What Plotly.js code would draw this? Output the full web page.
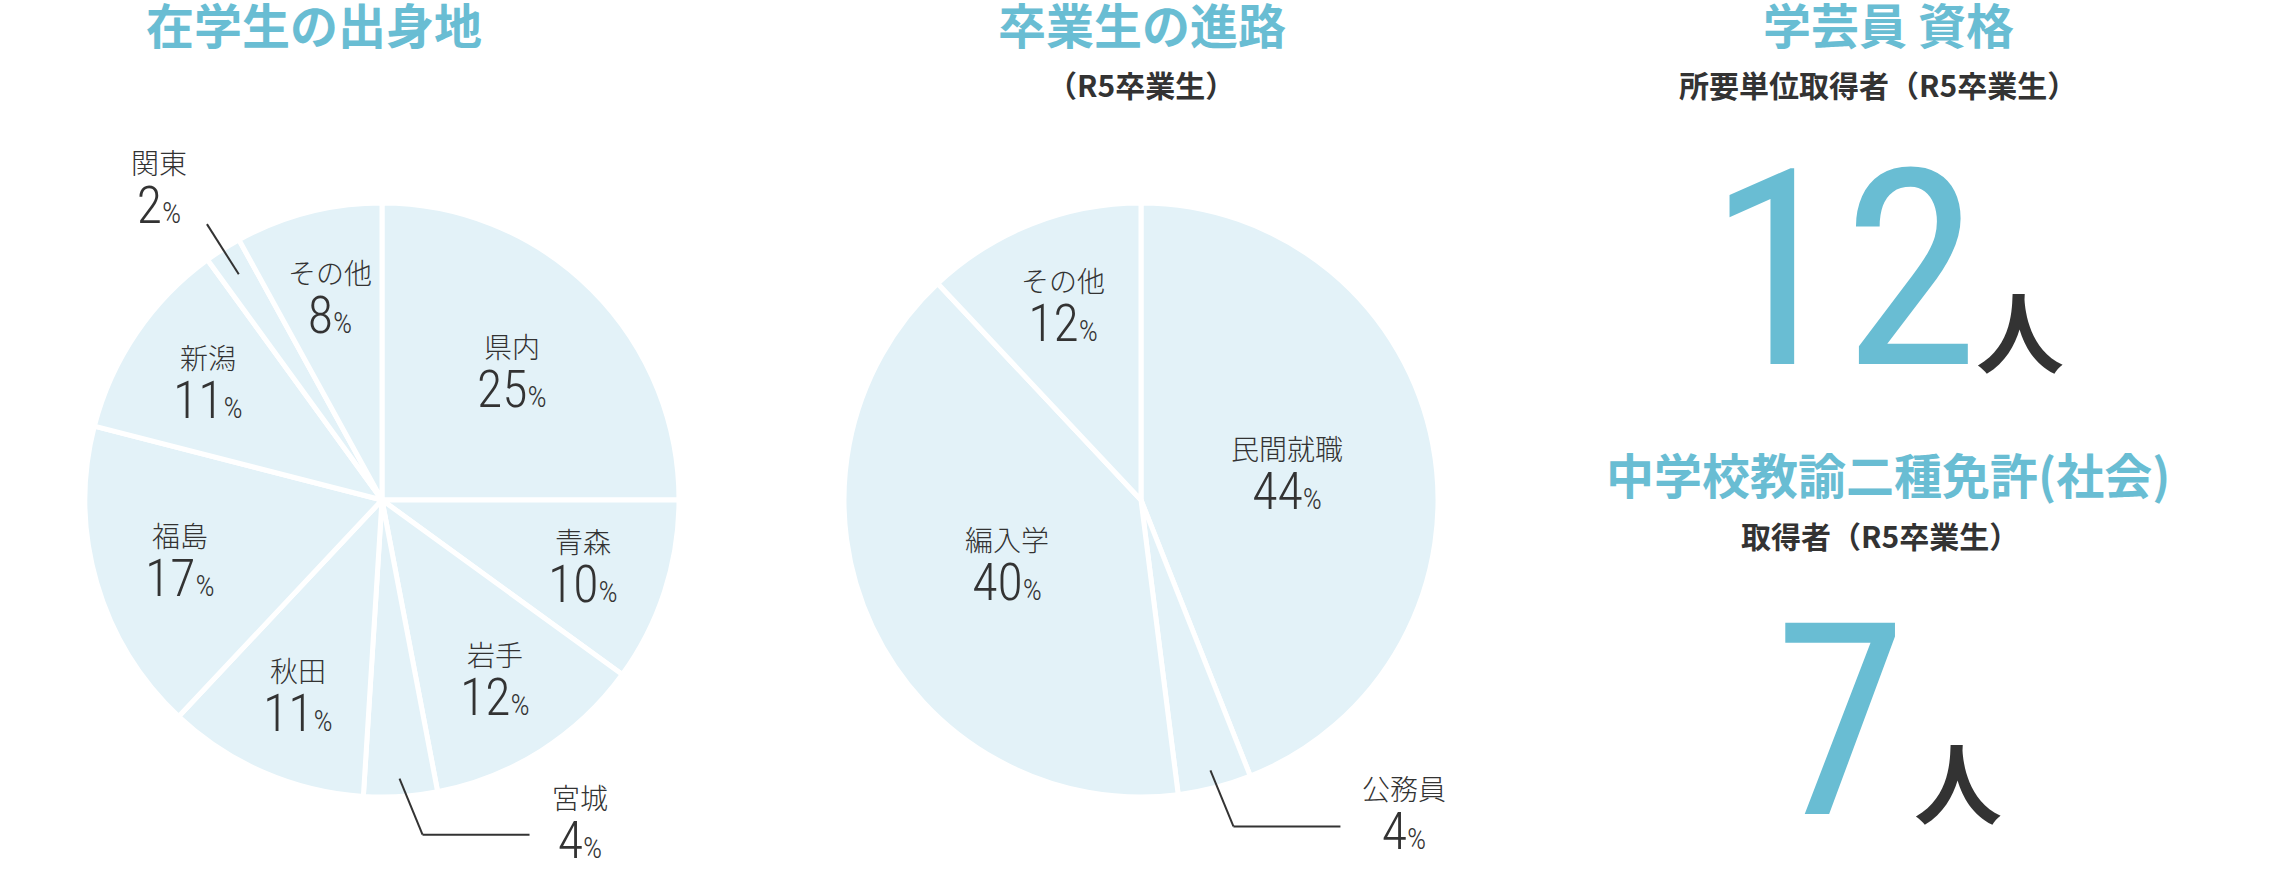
<!DOCTYPE html>
<html><head><meta charset="utf-8">
<script src="https://cdn.plot.ly/plotly-3.0.1.min.js"></script>
<style>html,body{margin:0;padding:0;background:#fff}#chart{width:2280px;height:890px}</style>
</head><body><div id="chart"></div>
<script>
// ---- data ----
const originTitle = '在学生の出身地';
const originLabels = ['県内','青森','岩手','宮城','秋田','福島','新潟','関東','その他'];
const originValues = [25,10,12,4,11,17,11,2,8];

const courseTitle = '卒業生の進路';
const courseSub = '（R5卒業生）';
const courseLabels = ['民間就職','公務員','編入学','その他'];
const courseValues = [44,4,40,12];

const curatorTitle = '学芸員 資格';
const curatorSub = '所要単位取得者（R5卒業生）';
const curatorCount = 12;
const teacherTitle = '中学校教諭二種免許(社会)';
const teacherSub = '取得者（R5卒業生）';
const teacherCount = 7;
const unitLabel = '人';

// ---- style ----
const W = 2280, H = 890;
const ACCENT = '#69bdd3';
const FILL = '#e3f2f8';
const DARK = '#333333';
const JP = 'Noto Sans CJK JP';
const NUM = 'Roboto Condensed';
const pieL = {cx: 382, cy: 500, r: 297};
const pieM = {cx: 1141, cy: 500, r: 297};

const px = x => x / W;
const py = y => 1 - y / H;

function pieTrace(labels, values, g) {
  return {
    type: 'pie', labels: labels, values: values, sort: false, direction: 'clockwise', rotation: 0,
    textinfo: 'none', hoverinfo: 'none', showlegend: false,
    marker: {colors: labels.map(() => FILL), line: {color: '#ffffff', width: 5}},
    domain: {x: [px(g.cx - g.r), px(g.cx + g.r)], y: [py(g.cy + g.r), py(g.cy - g.r)]}
  };
}

const annotations = [];
const shapes = [];

function ann(text, x, y, font) {
  annotations.push({
    text: text, x: px(x), y: py(y), xref: 'paper', yref: 'paper', showarrow: false,
    xanchor: 'center', yanchor: 'middle', font: font
  });
}
function seg(x0, y0, x1, y1) {
  shapes.push({type: 'line', xref: 'paper', yref: 'paper', x0: px(x0), y0: py(y0), x1: px(x1), y1: py(y1),
    line: {color: DARK, width: 2}});
}
// two-line label: name (light JP) over value (condensed light digits + small %)
function label(name, v, x, yMid) {
  const t = '<span style="font-family:Noto Sans CJK JP;font-size:28px;font-weight:300">' + name + '</span>' +
            '<br><span style="font-size:52px">' + v + '</span><span style="font-size:30px">%</span>';
  ann(t, x, yMid + 3, {family: NUM, size: 38, color: DARK, weight: 300});
}

function pieLabels(labels, values, g) {
  const total = values.reduce((a, b) => a + b, 0);
  let cum = 0;
  labels.forEach((name, i) => {
    const frac = values[i] / total;
    const a = (cum + frac / 2) * 2 * Math.PI;
    cum += frac;
    const sx = Math.sin(a), sy = -Math.cos(a);
    if (frac < 0.05) {
      if (sy > 0) {
        const s = [g.cx + sx * g.r * 0.94, g.cy + sy * g.r * 0.94];
        const c = [s[0] + 23, s[1] + 56];
        const e = [c[0] + 107, c[1]];
        seg(s[0], s[1], c[0], c[1]);
        seg(c[0], c[1], e[0], e[1]);
        label(name, values[i], e[0] + 22 + name.length * 14, c[1] - 14);
      } else {
        const s = [g.cx + sx * g.r * 0.90, g.cy + sy * g.r * 0.90];
        const e = [g.cx + sx * g.r * 1.10, g.cy + sy * g.r * 1.10];
        seg(s[0], s[1], e[0], e[1]);
        label(name, values[i], e[0] - 48, e[1] - 38);
      }
    } else {
      const f = frac >= 0.35 ? 0.5 : (frac >= 0.2 ? 0.62 : 0.71);
      label(name, values[i], g.cx + sx * g.r * f, g.cy + sy * g.r * f);
    }
  });
}

pieLabels(originLabels, originValues, pieL);
pieLabels(courseLabels, courseValues, pieM);

const titleFont = {family: JP, size: 48, color: ACCENT, weight: 700};
const subFont = {family: JP, size: 30, color: DARK, weight: 700};
const bigFont = s => ({family: NUM, size: s, color: ACCENT, weight: 450});
const unitFont = {family: JP, size: 88, color: DARK, weight: 700};

ann(originTitle, 314, 23, titleFont);
ann(courseTitle, 1142, 23, titleFont);
ann(courseSub, 1141, 84, subFont);

ann(curatorTitle, 1888, 23, titleFont);
ann(curatorSub, 1878, 84, subFont);
ann(String(curatorCount), 1843, 270, bigFont(274));
ann(unitLabel, 2020, 328, unitFont);

ann(teacherTitle, 1888, 473, titleFont);
ann(teacherSub, 1880, 535, subFont);
ann(String(teacherCount), 1840, 722, bigFont(269));
ann(unitLabel, 1958, 778, unitFont);

const layout = {
  width: W, height: H, margin: {l: 0, r: 0, t: 0, b: 0},
  paper_bgcolor: '#ffffff', plot_bgcolor: '#ffffff',
  showlegend: false, annotations: annotations, shapes: shapes
};

Plotly.newPlot('chart', [pieTrace(originLabels, originValues, pieL), pieTrace(courseLabels, courseValues, pieM)], layout, {staticPlot: true, displayModeBar: false});
</script>
</body></html>
